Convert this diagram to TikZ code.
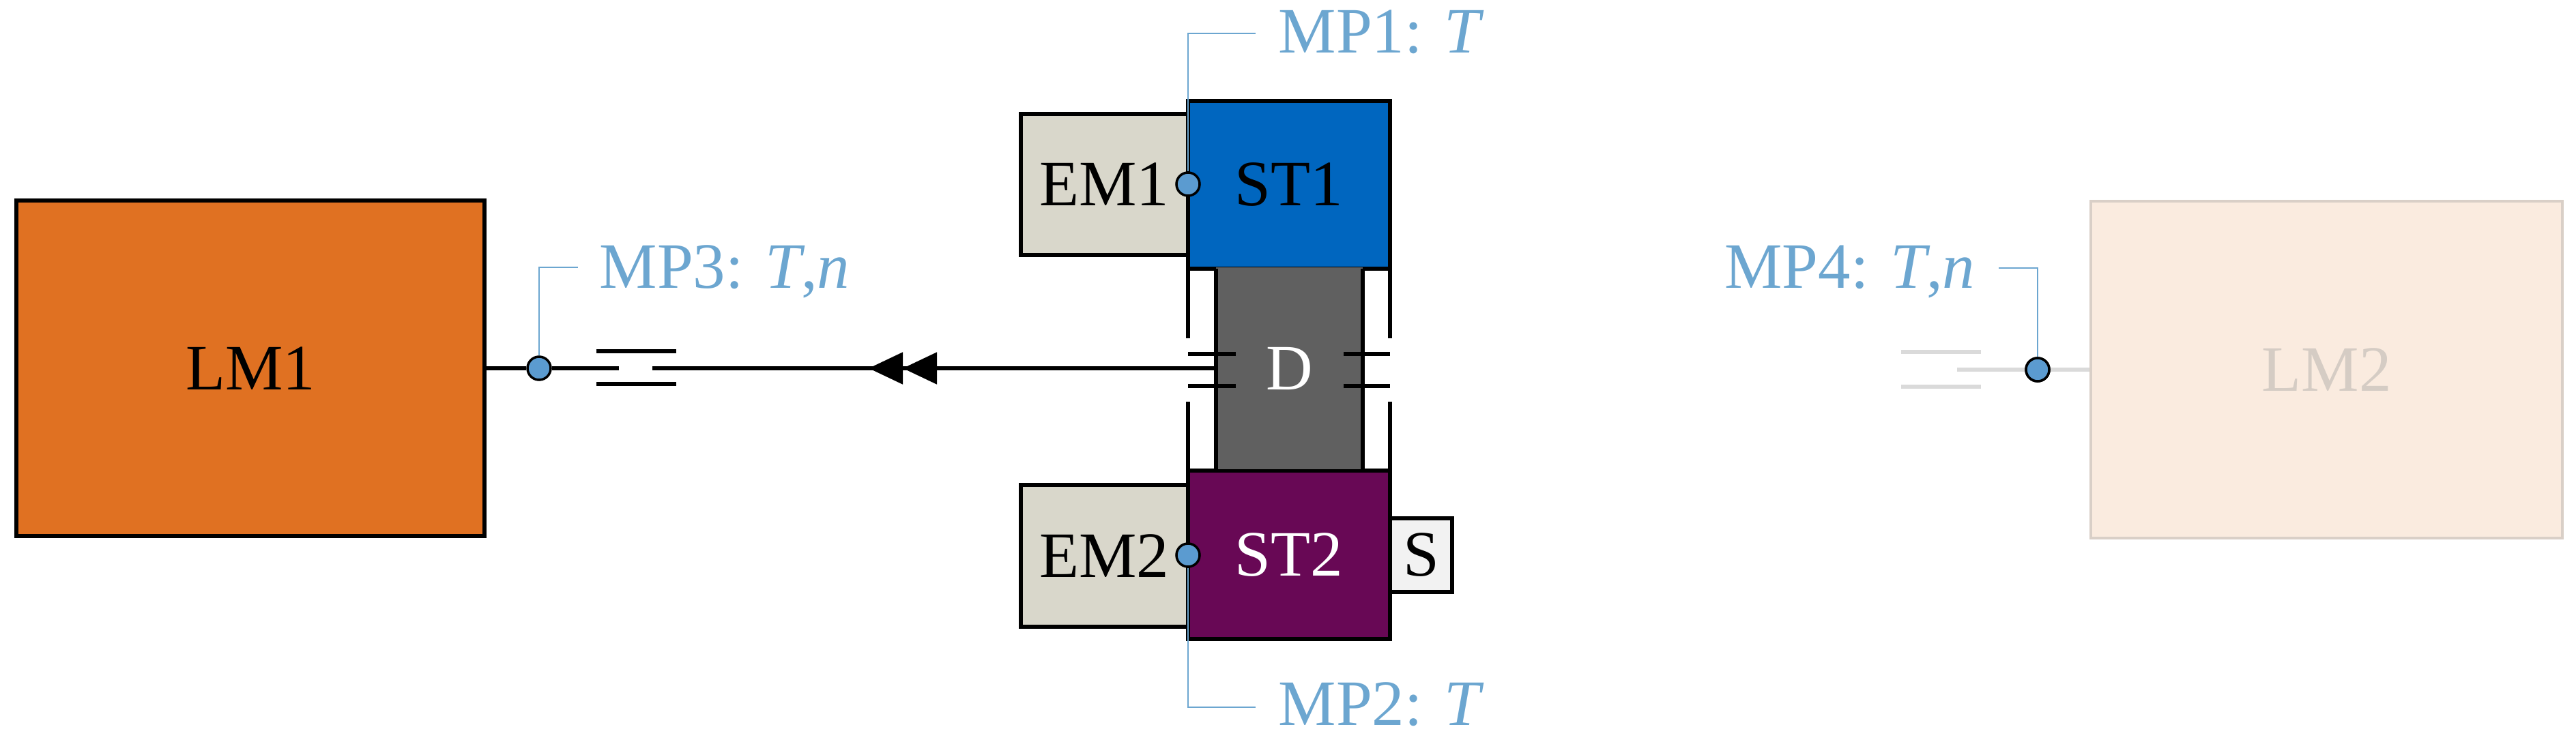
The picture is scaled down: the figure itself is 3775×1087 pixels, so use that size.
\documentclass[tikz,border=0pt]{standalone}
\usepackage{fontspec}
\setmainfont{Liberation Serif}
\usetikzlibrary{arrows.meta}
\definecolor{lmone}{HTML}{E07122}
\definecolor{stone}{HTML}{0066BF}
\definecolor{sttwo}{HTML}{680855}
\definecolor{dgray}{HTML}{606060}
\definecolor{emc}{HTML}{D9D7CB}
\definecolor{sc}{HTML}{F2F2F2}
\definecolor{mpc}{HTML}{6CA6D0}
\definecolor{dotc}{HTML}{5B9BD0}
\definecolor{lmtwo}{HTML}{FAEBDF}
\definecolor{lmtwob}{HTML}{D9CFC7}
\definecolor{lmtwot}{HTML}{D5CCC4}
\definecolor{gbar}{HTML}{DADADA}
\begin{document}
\begin{tikzpicture}[x=0.01cm,y=-0.01cm,
  box/.style={draw=black,line width=1.7pt,inner sep=0pt,font=\fontsize{27}{32}\selectfont},
  mp/.style={text=mpc,font=\fontsize{27}{32}\selectfont,inner sep=0pt},
  lead/.style={draw=mpc,line width=0.8pt},
  dot/.style={circle,draw=black,fill=dotc,line width=1pt,minimum size=0.34cm,inner sep=0pt},
  shaft/.style={line width=1.5pt},
  bar/.style={line width=1.7pt}]
\useasboundingbox (0,0) rectangle (3775,1087);
% LM1
\node[box,fill=lmone,minimum width=6.86cm,minimum height=4.91cm] (LM1) at (367,540) {LM1};
% LM2
\node[box,draw=lmtwob,line width=1.2pt,fill=lmtwo,text=lmtwot,minimum width=6.91cm,minimum height=4.94cm] (LM2) at (3409.5,542) {LM2};
% EM, ST
\node[box,fill=emc,minimum width=2.45cm,minimum height=2.07cm] (EM1) at (1618.5,270.5) {EM1};
\node[box,fill=emc,minimum width=2.45cm,minimum height=2.08cm] (EM2) at (1618.5,815) {EM2};
\node[box,fill=stone,minimum width=2.96cm,minimum height=2.46cm] (ST1) at (1889,271) {ST1};
\node[box,fill=sttwo,text=white,minimum width=2.96cm,minimum height=2.47cm] (ST2) at (1889,813.5) {ST2};
\node[box,fill=sc,minimum width=0.91cm,minimum height=1.08cm] (S) at (2082.5,814) {S};
\node[box,fill=dgray,text=white,draw=none,minimum width=2.15cm,minimum height=2.96cm] (D) at (1889.5,540) {D};
\draw[bar] (1782,394) -- (1782,690) (1997,394) -- (1997,690);
% outer vertical lines and clutch bars
\draw[bar] (1741,394) -- (1741,496) (1741,589) -- (1741,690)
           (2037,394) -- (2037,496) (2037,589) -- (2037,690)
           (1741,519) -- (1811,519) (1741,566) -- (1811,566)
           (1969,519) -- (2037,519) (1969,566) -- (2037,566);
% shaft left
\coordinate (c1) at (907,540);
\coordinate (c2) at (956,540);
\coordinate (a1) at (1273,540);
\node[dot] (MP3) at (790,540) {};
\draw[shaft] (LM1.east) -- (MP3) -- (c1);
\draw[shaft] (c2) -- (D.west);
\draw[shaft,-{Triangle[length=0.5cm,width=0.46cm]Triangle[length=0.5cm,width=0.46cm]}] (1420,540) -- (a1);
\draw[bar] (874,515) -- (991,515) (874,563) -- (991,563);
% right gray coupling
\node[dot] (MP4) at (2986,542) {};
\draw[gbar,line width=1.7pt] (2868,542) -- (MP4) (MP4) -- (LM2.west)
  (2786,516) -- (2903,516) (2786,567) -- (2903,567);
\node[dot] (MP4b) at (2986,542) {};
% MP dots
\node[dot] (MP1) at (1741,270) {};
\node[dot] (MP2) at (1741,814) {};
% leaders and labels
\node[mp,anchor=base west] (L1) at (1873,77) {MP1: \textit{T}};
\node[mp,anchor=base west] (L2) at (1873,1063) {MP2: \textit{T}};
\node[mp,anchor=base west] (L3) at (878,422) {MP3: \textit{T},\textit{n}};
\node[mp,anchor=base east] (L4) at (2895,422) {MP4: \textit{T},\textit{n}};
\draw[lead] (MP1.north) -- (1741,49) -- (1840,49);
\draw[lead] (MP2.south) -- (1741,1037) -- (1840,1037);
\draw[lead] (MP3.north) -- (790,392) -- (847,392);
\draw[lead] (MP4b.north) -- (2986,393) -- (2929,393);
\end{tikzpicture}
\end{document}
